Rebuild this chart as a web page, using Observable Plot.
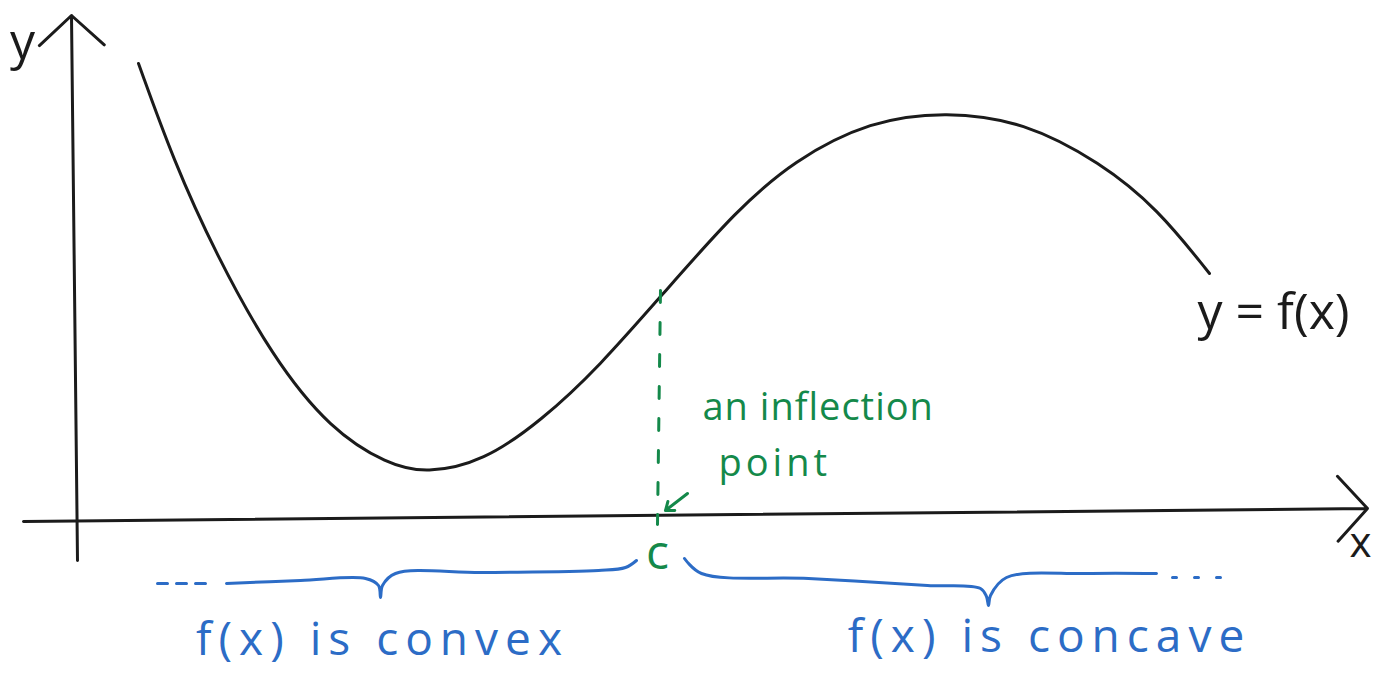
<!DOCTYPE html>
<html>
<head>
<meta charset="utf-8">
<script src="https://cdn.jsdelivr.net/npm/d3@7"></script>
<script src="https://cdn.jsdelivr.net/npm/@observablehq/plot@0.6"></script>
<style>
  html, body { margin: 0; padding: 0; background: #fff; }
  #chart svg { display: block; }
</style>
</head>
<body>
<div id="chart"></div>
<script>
// Curve y = f(x) (axis units)
const curveX = [0.64, 0.99, 1.41, 1.98, 2.56, 3.13, 3.52, 4.09, 4.67, 5.24, 5.93, 6.62, 7.19, 7.96, 8.72, 9.49, 10.26, 10.83, 11.35];
const curveY = [4.57, 3.60, 2.67, 1.63, 0.91, 0.56, 0.47, 0.59, 1.00, 1.53, 2.32, 3.10, 3.60, 4.00, 4.09, 3.99, 3.58, 3.12, 2.47];

// Axes (drawn as arrows)
const axisNames = ["y-axis", "x-axis"];
const axisX1 = [0.03, -0.51];
const axisY1 = [-0.40, -0.01];
const axisX2 = [-0.03, 12.93];
const axisY2 = [5.05, 0.12];

// Inflection point c
const inflectionX = [5.86, 5.83];
const inflectionY = [2.30, -0.04];
const pointerX = [6.13, 5.91];
const pointerY = [0.27, 0.10];

// Braces under the x axis
const convexBraceX = [1.52, 2.26, 2.91, 3.04, 3.06, 3.08, 3.21, 4.09, 5.24, 5.51, 5.62];
const convexBraceY = [-0.63, -0.60, -0.58, -0.65, -0.77, -0.65, -0.53, -0.52, -0.50, -0.47, -0.40];
const convexDotsX = [0.83, 1.36];
const convexDotsY = [-0.63, -0.63];
const concaveBraceX = [6.10, 6.27, 7.34, 8.53, 9.06, 9.12, 9.14, 9.16, 9.32, 10.11, 10.82];
const concaveBraceY = [-0.38, -0.53, -0.58, -0.65, -0.68, -0.76, -0.85, -0.75, -0.57, -0.53, -0.53];
const concaveDotsX = [10.98, 11.57];
const concaveDotsY = [-0.57, -0.57];

// Labels
const blackLabels = ["y", "x", "y = f(x)"];
const blackLabelX = [-0.52, 12.86, 11.99];
const blackLabelY = [4.78, -0.23, 2.08];
const greenLabels = ["an inflection", "point", "c"];
const greenLabelX = [6.28, 6.44, 5.83];
const greenLabelY = [1.13, 0.57, -0.33];
const blueLabels = ["f(x) is convex", "f(x) is concave"];
const blueLabelX = [3.08, 9.75];
const blueLabelY = [-1.20, -1.17];

const INK = "#1b1b1b", GREEN = "#14894a", BLUE = "#2c6cc6";
const zip = (xs, ys) => xs.map((x, i) => ({x, y: ys[i]}));

const curve = zip(curveX, curveY);
const axes = axisNames.map((n, i) => ({name: n, x1: axisX1[i], y1: axisY1[i], x2: axisX2[i], y2: axisY2[i]}));
const inflection = zip(inflectionX, inflectionY);
const pointer = [{x1: pointerX[0], y1: pointerY[0], x2: pointerX[1], y2: pointerY[1]}];
const convexBrace = zip(convexBraceX, convexBraceY);
const concaveBrace = zip(concaveBraceX, concaveBraceY);
const convexDots = zip(convexDotsX, convexDotsY);
const concaveDots = zip(concaveDotsX, concaveDotsY);
const lbl = (t, xs, ys) => t.map((s, i) => ({text: s, x: xs[i], y: ys[i]}));

const FONT = "'Open Sans', 'Noto Sans', sans-serif";

const chart = Plot.plot({
  width: 1388,
  height: 673,
  margin: 0,
  x: {domain: [-0.74, 13.14], axis: null},
  y: {domain: [-1.53, 5.20], axis: null},
  style: {fontFamily: FONT, background: "#fff"},
  marks: [
    Plot.arrow(axes, {x1: "x1", y1: "y1", x2: "x2", y2: "y2", stroke: INK, strokeWidth: 3, headLength: 22, headAngle: 95}),
    Plot.line(curve, {x: "x", y: "y", curve: "basis", stroke: INK, strokeWidth: 3}),
    Plot.line(inflection, {x: "x", y: "y", stroke: GREEN, strokeWidth: 3, strokeDasharray: "12,20"}),
    Plot.arrow(pointer, {x1: "x1", y1: "y1", x2: "x2", y2: "y2", stroke: GREEN, strokeWidth: 3, headLength: 13, headAngle: 75}),
    Plot.line(convexBrace, {x: "x", y: "y", curve: "catmull-rom", stroke: BLUE, strokeWidth: 3}),
    Plot.line(concaveBrace, {x: "x", y: "y", curve: "catmull-rom", stroke: BLUE, strokeWidth: 3}),
    Plot.line(convexDots, {x: "x", y: "y", stroke: BLUE, strokeWidth: 3, strokeDasharray: "10,9"}),
    Plot.line(concaveDots, {x: "x", y: "y", stroke: BLUE, strokeWidth: 3, strokeDasharray: "4,18"}),
    Plot.text(lbl(blackLabels, blackLabelX, blackLabelY), {x: "x", y: "y", text: "text", fill: INK, fontSize: 50}),
    Plot.text(lbl(greenLabels, greenLabelX, greenLabelY), {x: "x", y: "y", text: "text", fill: GREEN, fontSize: 38, textAnchor: "start"}),
    Plot.text(lbl(blueLabels, blueLabelX, blueLabelY), {x: "x", y: "y", text: "text", fill: BLUE, fontSize: 46})
  ]
});
document.getElementById("chart").appendChild(chart);

// hand-lettered spacing tweaks
d3.select(chart).selectAll("text").each(function() {
  const t = this.textContent;
  if (t === "f(x) is convex" || t === "f(x) is concave") this.setAttribute("letter-spacing", "7");
  if (t === "an inflection") this.setAttribute("letter-spacing", "1");
  if (t === "point") this.setAttribute("letter-spacing", "4");
  if (t === "c") { this.setAttribute("text-anchor", "middle"); this.setAttribute("font-size", "48"); }
  if (t === "x") this.setAttribute("font-size", "42");
});
</script>
</body>
</html>
